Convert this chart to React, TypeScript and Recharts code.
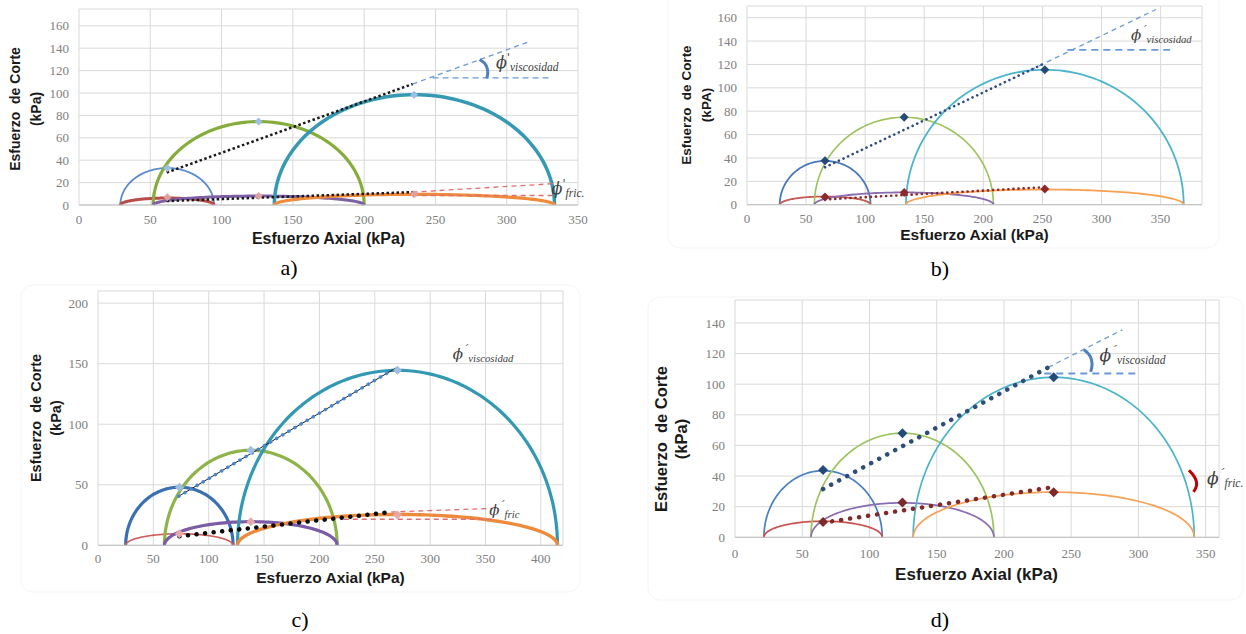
import React from 'react';
import { ComposedChart, Line, XAxis, YAxis, CartesianGrid, ReferenceDot } from 'recharts';

type Pt = { x: number; y: number };
type Circle = { name: string; left: number; right: number; peak: number };

// ---------------- Panel a ----------------
const aXTicks = [0, 50, 100, 150, 200, 250, 300, 350];
const aYTicks = [0, 20, 40, 60, 80, 100, 120, 140, 160];
const aCircles: Circle[] = [
  { name: 'blue', left: 29, right: 94.7, peak: 33 },
  { name: 'red', left: 29, right: 94.7, peak: 6.2 },
  { name: 'green', left: 52, right: 200, peak: 74.5 },
  { name: 'purple', left: 52, right: 200, peak: 8 },
  { name: 'teal', left: 137, right: 333.5, peak: 98.5 },
  { name: 'orange', left: 137, right: 333.5, peak: 9.5 },
];
const aViscEnvelope: Pt[] = [{ x: 61.5, y: 29 }, { x: 234, y: 108 }];
const aViscExtension: Pt[] = [{ x: 234, y: 108 }, { x: 315, y: 145.5 }];
const aViscReference: Pt[] = [{ x: 248, y: 113.5 }, { x: 330, y: 113.5 }];
const aViscArc: Pt[] = [{ x: 281, y: 130 }, { x: 284.5, y: 126.5 }, { x: 286.3, y: 122 }, { x: 286.7, y: 117.5 }, { x: 286, y: 113 }];
const aFricEnvelope: Pt[] = [{ x: 61.5, y: 3.5 }, { x: 234, y: 11.5 }];
const aFricExtension: Pt[] = [{ x: 234, y: 11.5 }, { x: 332, y: 19 }];
const aFricReference: Pt[] = [{ x: 234, y: 8.5 }, { x: 332, y: 8.5 }];
const aViscPeaks: Pt[] = [{ x: 62, y: 33 }, { x: 126, y: 74.5 }, { x: 235, y: 98.5 }];
const aFricPeaks: Pt[] = [{ x: 62, y: 7 }, { x: 126, y: 8 }, { x: 235, y: 9.5 }];
const aLabelVisc: Pt = { x: 292.5, y: 122.5 };
const aLabelFric: Pt = { x: 331.5, y: 10 };

// ---------------- Panel b ----------------
const bXTicks = [0, 50, 100, 150, 200, 250, 300, 350];
const bYTicks = [0, 20, 40, 60, 80, 100, 120, 140, 160];
const bCircles: Circle[] = [
  { name: 'blue', left: 27.7, right: 104.5, peak: 37.5 },
  { name: 'red', left: 27.7, right: 104.5, peak: 7 },
  { name: 'green', left: 57, right: 208.5, peak: 74.8 },
  { name: 'purple', left: 57, right: 208.5, peak: 10.5 },
  { name: 'teal', left: 134.5, right: 369.5, peak: 115.5 },
  { name: 'orange', left: 134.5, right: 369.5, peak: 13 },
];
const bViscEnvelope: Pt[] = [{ x: 66, y: 32 }, { x: 252, y: 121 }];
const bViscExtension: Pt[] = [{ x: 240, y: 115.3 }, { x: 346, y: 167 }];
const bViscReference: Pt[] = [{ x: 271, y: 132.5 }, { x: 358, y: 132.5 }];
const bFricEnvelope: Pt[] = [{ x: 66, y: 4.5 }, { x: 252, y: 15 }];
const bViscPeaks: Pt[] = [{ x: 66, y: 37.5 }, { x: 133, y: 74.8 }, { x: 252, y: 115.5 }];
const bFricPeaks: Pt[] = [{ x: 66, y: 6.5 }, { x: 133, y: 10.5 }, { x: 252, y: 13.5 }];
const bLabelVisc: Pt = { x: 325, y: 140.5 };

// ---------------- Panel c ----------------
const cXTicks = [0, 50, 100, 150, 200, 250, 300, 350, 400];
const cYTicks = [0, 50, 100, 150, 200];
const cCircles: Circle[] = [
  { name: 'blue', left: 25, right: 122, peak: 48 },
  { name: 'red', left: 25, right: 122, peak: 9.5 },
  { name: 'green', left: 60, right: 216, peak: 78.5 },
  { name: 'purple', left: 60, right: 216, peak: 19.5 },
  { name: 'teal', left: 126, right: 415, peak: 144.5 },
  { name: 'orange', left: 126, right: 415, peak: 25.5 },
];
const cViscLine: Pt[] = [{ x: 72.5, y: 40.3 }, { x: 271, y: 147.5 }];
const cViscDots: Pt[] = [{ x: 73, y: 40.5 }, { x: 265, y: 144.3 }];
const cFricDots: Pt[] = [{ x: 73.5, y: 7.5 }, { x: 265, y: 27.5 }];
const cFricExtension: Pt[] = [{ x: 265, y: 27.5 }, { x: 356, y: 30.5 }];
const cFricReference: Pt[] = [{ x: 222, y: 21.5 }, { x: 356, y: 21.5 }];
const cViscPeaks: Pt[] = [{ x: 73.5, y: 48 }, { x: 138, y: 78.5 }, { x: 270.5, y: 144.5 }];
const cFricPeaks: Pt[] = [{ x: 73.5, y: 9.5 }, { x: 138, y: 19.5 }, { x: 270.5, y: 25 }];
const cLabelVisc: Pt = { x: 320.5, y: 154 };
const cLabelFric: Pt = { x: 353.3, y: 25 };

// ---------------- Panel d ----------------
const dXTicks = [0, 50, 100, 150, 200, 250, 300, 350];
const dYTicks = [0, 20, 40, 60, 80, 100, 120, 140];
const dCircles: Circle[] = [
  { name: 'blue', left: 21.5, right: 109.5, peak: 43.5 },
  { name: 'red', left: 21.5, right: 109.5, peak: 10.5 },
  { name: 'green', left: 56.5, right: 192.5, peak: 68 },
  { name: 'purple', left: 56.5, right: 192.5, peak: 22.5 },
  { name: 'teal', left: 132.5, right: 341.5, peak: 104.5 },
  { name: 'orange', left: 132.5, right: 341.5, peak: 29.5 },
];
const dViscEnvelope: Pt[] = [{ x: 65.5, y: 31.5 }, { x: 233, y: 111 }];
const dViscExtension: Pt[] = [{ x: 233, y: 111 }, { x: 288, y: 135.5 }];
const dViscReference: Pt[] = [{ x: 230, y: 107 }, { x: 299, y: 107 }];
const dViscArc: Pt[] = [{ x: 259.5, y: 122.5 }, { x: 263.2, y: 119.5 }, { x: 265.2, y: 115.5 }, { x: 265.4, y: 111.5 }, { x: 264.5, y: 108 }];
const dFricEnvelope: Pt[] = [{ x: 65.5, y: 9.5 }, { x: 233, y: 32.3 }];
const dFricArc: Pt[] = [{ x: 337.6, y: 43.8 }, { x: 341.3, y: 40 }, { x: 343.2, y: 36 }, { x: 342.8, y: 32.5 }, { x: 341, y: 29.7 }];
const dViscPeaks: Pt[] = [{ x: 65.5, y: 44 }, { x: 124.5, y: 68 }, { x: 237, y: 104.5 }];
const dFricPeaks: Pt[] = [{ x: 65.5, y: 10 }, { x: 124.5, y: 22.7 }, { x: 237, y: 29.5 }];
const dLabelVisc: Pt = { x: 271, y: 115 };
const dLabelFric: Pt = { x: 351, y: 35 };

// ---------------- Styles ----------------
const aCircleStyle: Record<string, [string, number]> = {
  blue: ['#5b8bd0', 1.8], red: ['#b94a48', 3], green: ['#86ad3c', 3.2],
  purple: ['#7d5fa3', 3], teal: ['#3599b3', 3.5], orange: ['#ef8b3b', 3.2],
};
const bCircleStyle: Record<string, [string, number]> = {
  blue: ['#4677bb', 1.8], red: ['#c85a55', 1.8], green: ['#9bc35a', 1.6],
  purple: ['#8a6bb0', 1.8], teal: ['#4db5cb', 1.8], orange: ['#f7a050', 1.8],
};
const cCircleStyle: Record<string, [string, number]> = {
  blue: ['#3a6fb2', 3.2], red: ['#d05a55', 1.6], green: ['#8db34a', 3.2],
  purple: ['#7b5ba5', 3.2], teal: ['#3399b2', 3.2], orange: ['#ee8a3c', 3.4],
};
const dCircleStyle: Record<string, [string, number]> = {
  blue: ['#4a7fc0', 1.7], red: ['#c9524e', 1.7], green: ['#9cc35c', 1.7],
  purple: ['#8a6cb2', 1.7], teal: ['#4cb4ca', 1.7], orange: ['#f8a055', 1.7],
};

type SeriesSpec = { data: Pt[]; stroke: string; width: number; dash?: string; cap?: 'round' | 'butt'; curve?: 'linear' | 'natural' };
type MarkerSpec = { data: Pt[]; fill: string; size: number };
type LabelSpec = { at: Pt; sub: string; prime: string; phiSize: number; subSize: number };
type Box = { L: number; T: number; R: number; B: number };

function halfEllipse(c: Circle, n = 90): Pt[] {
  const cx = (c.left + c.right) / 2;
  const r = (c.right - c.left) / 2;
  const pts: Pt[] = [];
  for (let i = 0; i <= n; i++) {
    const t = Math.PI * (1 - i / n);
    pts.push({ x: cx + r * Math.cos(t), y: c.peak * Math.sin(t) });
  }
  return pts;
}

const diamondDot = (fill: string, s: number) => (props: any) => {
  const { cx, cy, index } = props;
  if (cx == null || cy == null) return <g key={`d${index}`} />;
  return <path key={`d${index}`} d={`M${cx},${cy - s}L${cx + s},${cy}L${cx},${cy + s}L${cx - s},${cy}Z`} fill={fill} />;
};

const phiLabel = (l: LabelSpec) => (props: any) => {
  const vb = props.viewBox || {};
  const x = (vb.x ?? 0) + (vb.width ?? 0) / 2;
  const y = (vb.y ?? 0) + (vb.height ?? 0) / 2;
  return (
    <text x={x} y={y} fill="#404040" fontFamily="DejaVu Serif" fontStyle="italic">
      <tspan fontSize={l.phiSize}>ϕ</tspan>
      <tspan fontSize={l.phiSize * 0.7} dy={-l.phiSize * 0.42}>{l.prime}</tspan>
      <tspan fontSize={l.subSize} fontFamily="Liberation Serif" dy={l.phiSize * 0.42 + 3}>{l.sub}</tspan>
    </text>
  );
};

const tickStyle = { fill: '#808080', fontSize: 13, fontFamily: 'Liberation Serif' };
const RIGHT_PAD = 40;

function Panel(p: {
  box: Box; xMax: number; yMax: number; xTicks: number[]; yTicks: number[]; xGap: number;
  circles: Circle[]; circleStyle: Record<string, [string, number]>;
  lines: SeriesSpec[]; markers: MarkerSpec[]; labels: LabelSpec[];
}) {
  const { box } = p;
  return (
    <div style={{ position: 'absolute', left: box.L - 60, top: box.T - 5 }}>
      <ComposedChart width={box.R - box.L + 60 + RIGHT_PAD} height={box.B - box.T + 35} margin={{ top: 5, right: RIGHT_PAD, left: 0, bottom: 0 }}>
        <CartesianGrid stroke="#d9d9d9" strokeWidth={1} />
        <XAxis type="number" dataKey="x" domain={[0, p.xMax]} ticks={p.xTicks} interval={0} height={30}
          tickLine={false} tickSize={p.xGap} tickMargin={0} axisLine={{ stroke: '#bfbfbf' }} tick={tickStyle} />
        <YAxis type="number" dataKey="y" domain={[0, p.yMax]} ticks={p.yTicks} interval={0} width={60}
          tickLine={false} tickSize={10} tickMargin={0} axisLine={false} tick={tickStyle} />
        {p.circles.map((c, i) => (
          <Line key={`c${i}`} data={halfEllipse(c)} dataKey="y" type="linear" stroke={p.circleStyle[c.name][0]}
            strokeWidth={p.circleStyle[c.name][1]} dot={false} activeDot={false} isAnimationActive={false} />
        ))}
        {p.lines.map((s, i) => (
          <Line key={`l${i}`} data={s.data} dataKey="y" type={s.curve ?? 'linear'} stroke={s.stroke} strokeWidth={s.width}
            strokeDasharray={s.dash} strokeLinecap={s.cap ?? 'butt'} dot={false} activeDot={false} isAnimationActive={false} />
        ))}
        {p.markers.map((m, i) => (
          <Line key={`m${i}`} data={m.data} dataKey="y" stroke="none" dot={diamondDot(m.fill, m.size)}
            activeDot={false} isAnimationActive={false} />
        ))}
        {p.labels.map((l, i) => (
          <ReferenceDot key={`t${i}`} x={l.at.x} y={l.at.y} r={0} fill="none" stroke="none" ifOverflow="visible"
            label={{ content: phiLabel(l) }} />
        ))}
      </ComposedChart>
    </div>
  );
}

const blueDash = '#6a9ad8';
const redDash = '#e07070';

function YTitle({ x1, x2, cy, size, unit }: { x1: number; x2: number; cy: number; size: number; unit: string }) {
  const common = { fontFamily: 'Liberation Sans', fontWeight: 700, fontSize: size, fill: '#1a1a1a', textAnchor: 'middle' as const, dominantBaseline: 'central' as const, style: { whiteSpace: 'pre' as const } };
  return (
    <g>
      <text {...common} transform={`translate(${x1},${cy}) rotate(-90)`}>{'Esfuerzo  de Corte'}</text>
      <text {...common} transform={`translate(${x2},${cy}) rotate(-90)`}>{unit}</text>
    </g>
  );
}

function XTitle({ x, y, size }: { x: number; y: number; size: number }) {
  return (
    <text x={x} y={y} fontFamily="Liberation Sans" fontWeight={700} fontSize={size} fill="#1a1a1a" textAnchor="middle" dominantBaseline="central">
      Esfuerzo Axial (kPa)
    </text>
  );
}

export default function App() {
  return (
    <div style={{ position: 'absolute', left: 0, top: 0, width: 1246, height: 634, background: '#fff', overflow: 'hidden' }}>
      <svg width={1246} height={634} style={{ position: 'absolute', left: 0, top: 0 }}>
        <rect x={668} y={-12} width={551} height={260} rx={12} fill="none" stroke="#f5f5f5" />
        <rect x={21} y={285} width={559} height={307} rx={12} fill="none" stroke="#f5f5f5" />
        <rect x={648} y={297} width={595} height={303} rx={12} fill="none" stroke="#f5f5f5" />
      </svg>

      <Panel box={{ L: 79, T: 9, R: 578, B: 205 }} xMax={350} yMax={175} xTicks={aXTicks} yTicks={aYTicks} xGap={10}
        circles={aCircles} circleStyle={aCircleStyle}
        lines={[
          { data: aViscExtension, stroke: blueDash, width: 1.3, dash: '5 4' },
          { data: aViscReference, stroke: blueDash, width: 1.4, dash: '6 4' },
          { data: aFricExtension, stroke: redDash, width: 1.3, dash: '5 4' },
          { data: aFricReference, stroke: redDash, width: 1.3, dash: '5 4' },
          { data: aViscEnvelope, stroke: '#1a1a1a', width: 2.5, dash: '2.5 2.5' },
          { data: aFricEnvelope, stroke: '#1a1a1a', width: 2.5, dash: '2.5 2.5' },
          { data: aViscArc, stroke: '#4f81bd', width: 3, curve: 'natural' },
        ]}
        markers={[{ data: aViscPeaks, fill: '#9dbde3', size: 4 }, { data: aFricPeaks, fill: '#e0a0a0', size: 4 }]}
        labels={[
          { at: aLabelVisc, sub: 'viscosidad', prime: "'", phiSize: 16, subSize: 11.5 },
          { at: aLabelFric, sub: 'fric.', prime: "'", phiSize: 16, subSize: 11.5 },
        ]}
      />

      <Panel box={{ L: 747, T: 6, R: 1202, B: 204.7 }} xMax={385} yMax={170} xTicks={bXTicks} yTicks={bYTicks} xGap={8.7}
        circles={bCircles} circleStyle={bCircleStyle}
        lines={[
          { data: bViscExtension, stroke: blueDash, width: 1.3, dash: '5 4' },
          { data: bViscReference, stroke: blueDash, width: 1.8, dash: '7 5' },
          { data: bViscEnvelope, stroke: '#2e4d7b', width: 2.6, dash: '0.1 5', cap: 'round' },
          { data: bFricEnvelope, stroke: '#8b2a2a', width: 2.6, dash: '0.1 5', cap: 'round' },
        ]}
        markers={[{ data: bViscPeaks, fill: '#254a78', size: 4.5 }, { data: bFricPeaks, fill: '#8b2a2a', size: 4.5 }]}
        labels={[{ at: bLabelVisc, sub: 'viscosidad', prime: '´', phiSize: 15, subSize: 10.7 }]}
      />

      <Panel box={{ L: 98, T: 290.7, R: 563, B: 545 }} xMax={420} yMax={210} xTicks={cXTicks} yTicks={cYTicks} xGap={8}
        circles={cCircles} circleStyle={cCircleStyle}
        lines={[
          { data: cFricExtension, stroke: redDash, width: 1.3, dash: '5 4' },
          { data: cFricReference, stroke: redDash, width: 1.3, dash: '5 4' },
          { data: cViscLine, stroke: '#1a1a1a', width: 1 },
          { data: cViscDots, stroke: '#4a86d0', width: 3.5, dash: '0.1 7', cap: 'round' },
          { data: cFricDots, stroke: '#0d0d0d', width: 4.5, dash: '0.1 8.5', cap: 'round' },
        ]}
        markers={[{ data: cViscPeaks, fill: '#9dbde3', size: 4.5 }, { data: cFricPeaks, fill: '#e6a8a8', size: 4.5 }]}
        labels={[
          { at: cLabelVisc, sub: 'viscosidad', prime: '´', phiSize: 15, subSize: 10.7 },
          { at: cLabelFric, sub: 'fric', prime: '´', phiSize: 15, subSize: 10.7 },
        ]}
      />

      <Panel box={{ L: 734.5, T: 300, R: 1218.6, B: 537.3 }} xMax={360} yMax={155} xTicks={dXTicks} yTicks={dYTicks} xGap={11}
        circles={dCircles} circleStyle={dCircleStyle}
        lines={[
          { data: dViscExtension, stroke: blueDash, width: 1.3, dash: '5 4' },
          { data: dViscReference, stroke: blueDash, width: 1.8, dash: '7 5' },
          { data: dViscEnvelope, stroke: '#2e4d7b', width: 4.5, dash: '0.1 9', cap: 'round' },
          { data: dFricEnvelope, stroke: '#7f2a2a', width: 4.5, dash: '0.1 9', cap: 'round' },
          { data: dViscArc, stroke: '#4f81bd', width: 3, curve: 'natural' },
          { data: dFricArc, stroke: '#c00000', width: 3, curve: 'natural' },
        ]}
        markers={[{ data: dViscPeaks, fill: '#254a78', size: 5 }, { data: dFricPeaks, fill: '#7f2a2a', size: 5 }]}
        labels={[
          { at: dLabelVisc, sub: 'viscosidad', prime: '´', phiSize: 17, subSize: 11.5 },
          { at: dLabelFric, sub: 'fric.', prime: '´', phiSize: 17, subSize: 11.5 },
        ]}
      />

      <svg width={1246} height={634} style={{ position: 'absolute', left: 0, top: 0, pointerEvents: 'none' }}>
        <YTitle x1={15} x2={36} cy={109} size={14} unit="(kPa)" />
        <XTitle x={328.5} y={238} size={16} />
        <YTitle x1={686} x2={706} cy={105} size={13.5} unit="(kPA)" />
        <XTitle x={974.5} y={234} size={15.5} />
        <YTitle x1={36} x2={55.5} cy={418} size={14.5} unit="(kPa)" />
        <XTitle x={330.5} y={577} size={15.5} />
        <YTitle x1={661} x2={681} cy={439} size={16.5} unit="(kPa)" />
        <XTitle x={976.5} y={574} size={17} />
        <text x={289} y={275} fontFamily="Liberation Serif" fontSize={22} textAnchor="middle" fill="#000">a)</text>
        <text x={940} y={276} fontFamily="Liberation Serif" fontSize={22} textAnchor="middle" fill="#000">b)</text>
        <text x={300} y={627} fontFamily="Liberation Serif" fontSize={22} textAnchor="middle" fill="#000">c)</text>
        <text x={940} y={627} fontFamily="Liberation Serif" fontSize={22} textAnchor="middle" fill="#000">d)</text>
      </svg>
    </div>
  );
}
